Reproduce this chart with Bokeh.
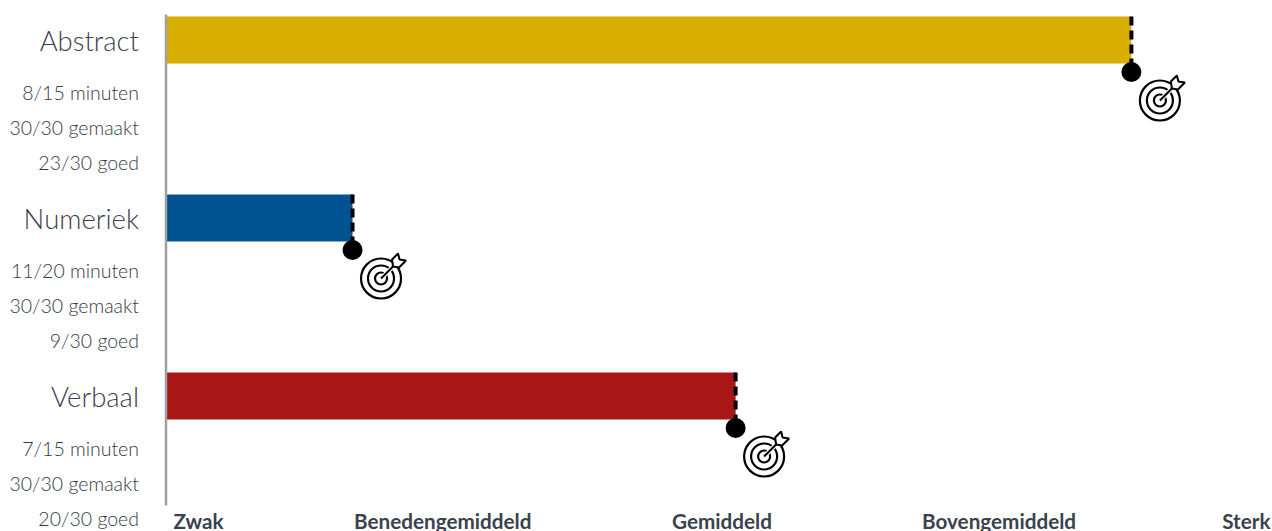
from bokeh.embed import file_html
from bokeh.resources import INLINE
from bokeh.plotting import figure
from bokeh.models import Range1d
from bokeh.core.properties import value

categories = ["Abstract", "Numeriek", "Verbaal"]
scores = [87.4, 16.85, 51.55]
bar_colors = ["#D8AE00", "#005291", "#A81616"]
minutes = ["8/15 minuten", "11/20 minuten", "7/15 minuten"]
made = ["30/30 gemaakt", "30/30 gemaakt", "30/30 gemaakt"]
good = ["23/30 goed", "9/30 goed", "20/30 goed"]
levels = ["Zwak", "Benedengemiddeld", "Gemiddeld", "Bovengemiddeld", "Sterk"]

W, H = 1272, 531
X0 = 166          # frame pixel of score 0
PPU = 11.04       # pixels per score unit
px = lambda d: d / PPU

p = figure(width=W, height=H, output_backend="svg", toolbar_location=None,
           x_range=Range1d(-X0 / PPU, (W - X0) / PPU), y_range=Range1d(H, 0),
           min_border=0, outline_line_color=None, x_axis_location=None, y_axis_location=None)
p.grid.visible = False

TXT = "#3A424E"
LIGHT = value("Lato Light")
BOLD = value("Lato")
lab_x = px(-27.5)
for i, name in enumerate(categories):
    top = 16 + 178 * i
    bot = top + 47
    s = scores[i]
    p.quad(left=[0], right=[s], top=[top], bottom=[bot], fill_color=bar_colors[i], line_color=None)
    p.segment(x0=[s], x1=[s], y0=[top], y1=[bot + 6], line_color="black", line_width=4, line_dash="9 5")
    p.scatter(x=[s], y=[bot + 8.5], size=20, marker="circle", fill_color="black", line_color=None)
    cx, cy = s + px(28.5), bot + 37
    for d, lw in [(40, 2.2), (26, 2.2), (12, 2.2)]:
        p.scatter(x=[cx], y=[cy], size=d, marker="circle", fill_color=None, line_color="black", line_width=lw)
    p.segment(x0=[cx], x1=[cx + px(14)], y0=[cy], y1=[cy - 14], line_color="white", line_width=4.5)
    p.segment(x0=[cx], x1=[cx + px(14)], y0=[cy], y1=[cy - 14], line_color="black", line_width=2)
    p.patch(x=[cx + px(v) for v in (12, 11, 17, 18.5, 25, 18)],
            y=[cy + v for v in (-12, -19, -25, -19, -18, -11)],
            fill_color="white", line_color="black", line_width=2)
    p.text(x=[lab_x], y=[top + 23.5], text=[name], text_font=LIGHT, text_font_size="27.5px",
           text_align="right", text_baseline="middle", text_color=TXT)
    for line, off in [(minutes[i], 76), (made[i], 111.4), (good[i], 146)]:
        p.text(x=[lab_x], y=[top + off], text=[line], text_font=LIGHT, text_font_size="19.5px",
               text_align="right", text_baseline="middle", text_color="#333B46")

p.segment(x0=[px(-0.5)], x1=[px(-0.5)], y0=[14], y1=[505], line_color="#A0A0A0", line_width=2.5)

level_px = [173, 353.5, 671.5, 921.5, 1270]
aligns = ["left", "left", "left", "left", "right"]
for t, x, a in zip(levels, level_px, aligns):
    p.text(x=[px(x - X0)], y=[520], text=[t], text_font=BOLD, text_font_style="bold", text_font_size="20.7px",
           text_align=a, text_baseline="middle", text_color=TXT)

open("out.html", "w").write(file_html(p, INLINE))
